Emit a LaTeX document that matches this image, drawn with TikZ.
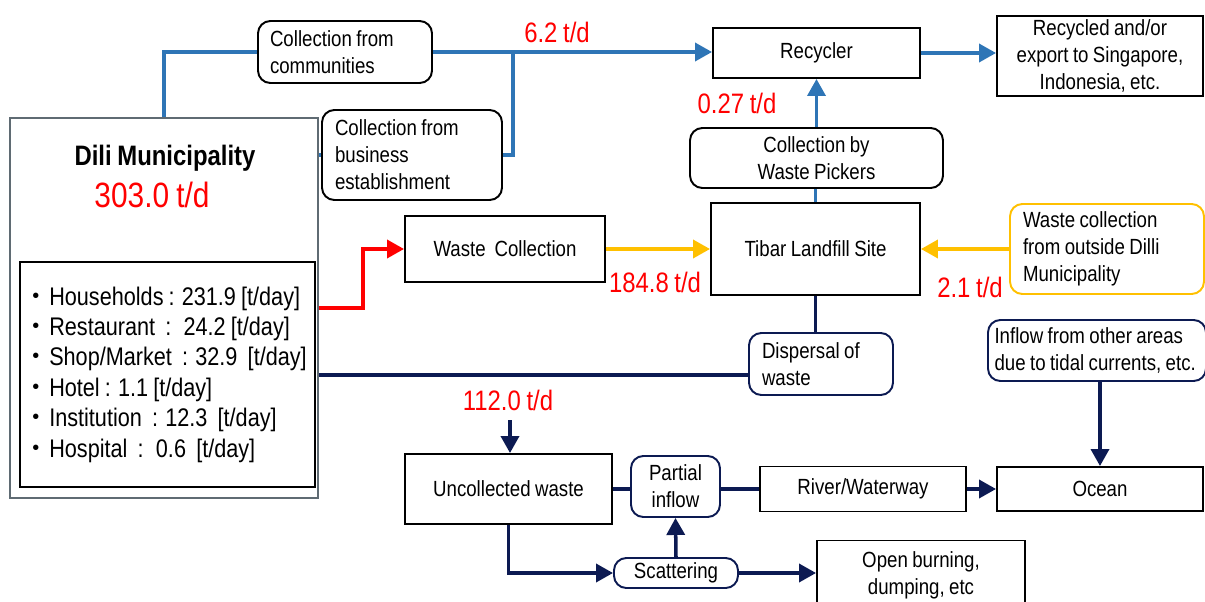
\documentclass[tikz,border=0pt]{standalone}
\usepackage{fontspec}
\setmainfont{Liberation Sans}[FakeStretch=0.85,WordSpace=0.85]
\newfontfamily\cjk{Noto Sans CJK JP}
\usetikzlibrary{arrows.meta}
\definecolor{lineblue}{HTML}{2E75B6}
\definecolor{navy}{HTML}{0C1A52}
\definecolor{amber}{HTML}{FFC000}
\definecolor{boxgray}{HTML}{5F6B73}
\begin{document}
\begin{tikzpicture}[x=0.02cm,y=-0.02cm,
        box/.style={draw,line width=1.1pt,inner sep=2pt,align=center,font=\fontsize{12.5}{15.4}\selectfont},
        roundbox/.style={box,rounded corners=7pt},
        amount/.style={red,font=\fontsize{16}{19}\selectfont},
        flow/.style={line width=2pt},
        tipped/.style={-{Triangle[length=0.34cm,width=0.36cm]}}]
    \useasboundingbox (0,0) rectangle (1205,602);
    \node[box,draw=boxgray,minimum width=6.16cm,minimum height=7.6cm] (dili) at (164,308) {};
    \node[font=\bfseries\fontsize{16}{19}\selectfont] (diliname) at (165,158) {Dili Municipality};
    \node[amount,font=\fontsize{20}{24}\selectfont] (dilitotal) at (152,195) {303.0 t/d};
    \node[box,minimum width=5.82cm,minimum height=4.5cm,text width=5.75cm,align=flush left,font=\fontsize{14.5}{17.3}\selectfont] (items) at (167.5,374.5) {%
        {\cjk ・}Households : 231.9 [t/day]\\
        {\cjk ・}Restaurant~ : ~24.2 [t/day]\\
        {\cjk ・}Shop/Market~ : 32.9~ [t/day]\\
        {\cjk ・}Hotel : 1.1 [t/day]\\
        {\cjk ・}Institution~ : 12.3~ [t/day]\\
        {\cjk ・}Hospital~ : ~0.6~ [t/day]};
    \node[roundbox,minimum width=3.48cm,minimum height=1.24cm,text width=3cm,align=flush left] (comm) at (345,52) {Collection from\\communities};
    \node[roundbox,minimum width=3.6cm,minimum height=1.8cm,text width=3.08cm,align=flush left] (biz) at (412,155) {Collection from\\business\\establishment};
    \node[box,minimum width=4.14cm,minimum height=1cm] (recycler) at (816.5,53) {Recycler};
    \node[box,minimum width=4.12cm,minimum height=1.6cm] (export) at (1100,56) {Recycled and/or\\export to Singapore,\\Indonesia, etc.};
    \node[roundbox,minimum width=5.06cm,minimum height=1.2cm] (pickers) at (816.5,158) {Collection by\\Waste Pickers};
    \node[box,minimum width=4.18cm,minimum height=1.84cm] (tibar) at (815.5,249) {Tibar Landfill Site};
    \node[box,minimum width=4cm,minimum height=1.32cm] (wastecoll) at (505,249) {Waste~ Collection};
    \node[roundbox,draw=amber,minimum width=3.88cm,minimum height=1.8cm,text width=3.36cm,align=flush left] (outside) at (1107,249) {Waste collection\\from outside Dilli\\Municipality};
    \node[roundbox,draw=navy,minimum width=2.88cm,minimum height=1.24cm,text width=2.36cm,align=flush left] (dispersal) at (821,364) {Dispersal of\\waste};
    \node[roundbox,draw=navy,minimum width=4.36cm,minimum height=1.22cm,text width=4.1cm,align=flush left] (inflow) at (1097,350.5) {Inflow from other areas\\due to tidal currents, etc.};
    \node[box,minimum width=4.14cm,minimum height=1.4cm] (uncollected) at (508.5,489) {Uncollected waste};
    \node[roundbox,draw=navy,minimum width=1.78cm,minimum height=1.22cm] (partial) at (675.5,486.5) {Partial\\inflow};
    \node[box,minimum width=4.12cm,minimum height=0.9cm] (river) at (863,489) {River/Waterway};
    \node[box,minimum width=4.12cm,minimum height=0.88cm] (ocean) at (1100,489) {Ocean};
    \node[roundbox,draw=navy,minimum width=2.48cm,minimum height=0.6cm] (scatter) at (676,573) {Scattering};
    \node[box,minimum width=4.16cm,minimum height=1.38cm] (burning) at (921,575) {Open burning,\\dumping, etc};
    \node[amount] (amtrec) at (557,32) {6.2 t/d};
    \node[amount] (amtpick) at (737,103) {0.27 t/d};
    \node[amount] (amtland) at (655,282) {184.8 t/d};
    \node[amount] (amtout) at (970,287) {2.1 t/d};
    \node[amount] (amtuncol) at (508,400) {112.0 t/d};
    \coordinate (bizjoin) at (513,53);
    \coordinate (uncolin) at (510,420);
    \draw[flow,lineblue] (dili.north) |- (comm.west);
    \draw[flow,lineblue,tipped] (comm.east) -- (comm.east -| recycler.west);
    \draw[flow,lineblue] (biz.east) -| (bizjoin);
    \draw[flow,lineblue] (dili.east |- biz.west) -- (biz.west);
    \draw[flow,lineblue,tipped] (recycler.east) -- (recycler.east -| export.west);
    \draw[flow,lineblue,tipped] (pickers.north -| recycler.south) -- (recycler.south);
    \draw[flow,lineblue] (tibar.north) -- (tibar.north |- pickers.south);
    \draw[flow,red,tipped] (dili.east) -- ++(44,0) |- (wastecoll.west);
    \draw[flow,amber,tipped] (wastecoll.east) -- (tibar.west);
    \draw[flow,amber,tipped] (outside.west) -- (tibar.east);
    \draw[flow,navy] (tibar.south) -- (tibar.south |- dispersal.north);
    \draw[flow,navy] ([yshift=-0.22cm]dispersal.west) -- ([yshift=-0.22cm]dispersal.west -| dili.east);
    \draw[flow,navy,tipped] (uncolin) -- (uncolin |- uncollected.north);
    \draw[flow,navy] (uncollected.east) -- (uncollected.east -| partial.west);
    \draw[flow,navy] (partial.east |- river.west) -- (river.west);
    \draw[flow,navy,tipped] (river.east) -- (ocean.west);
    \draw[flow,navy,tipped] (inflow.south -| ocean.north) -- (ocean.north);
    \draw[flow,navy,tipped] (uncollected.south) |- (scatter.west);
    \draw[flow,navy,tipped] (scatter.north) -- (partial.south);
    \draw[flow,navy,tipped] (scatter.east) -- (scatter.east -| burning.west);
\end{tikzpicture}
\end{document}
